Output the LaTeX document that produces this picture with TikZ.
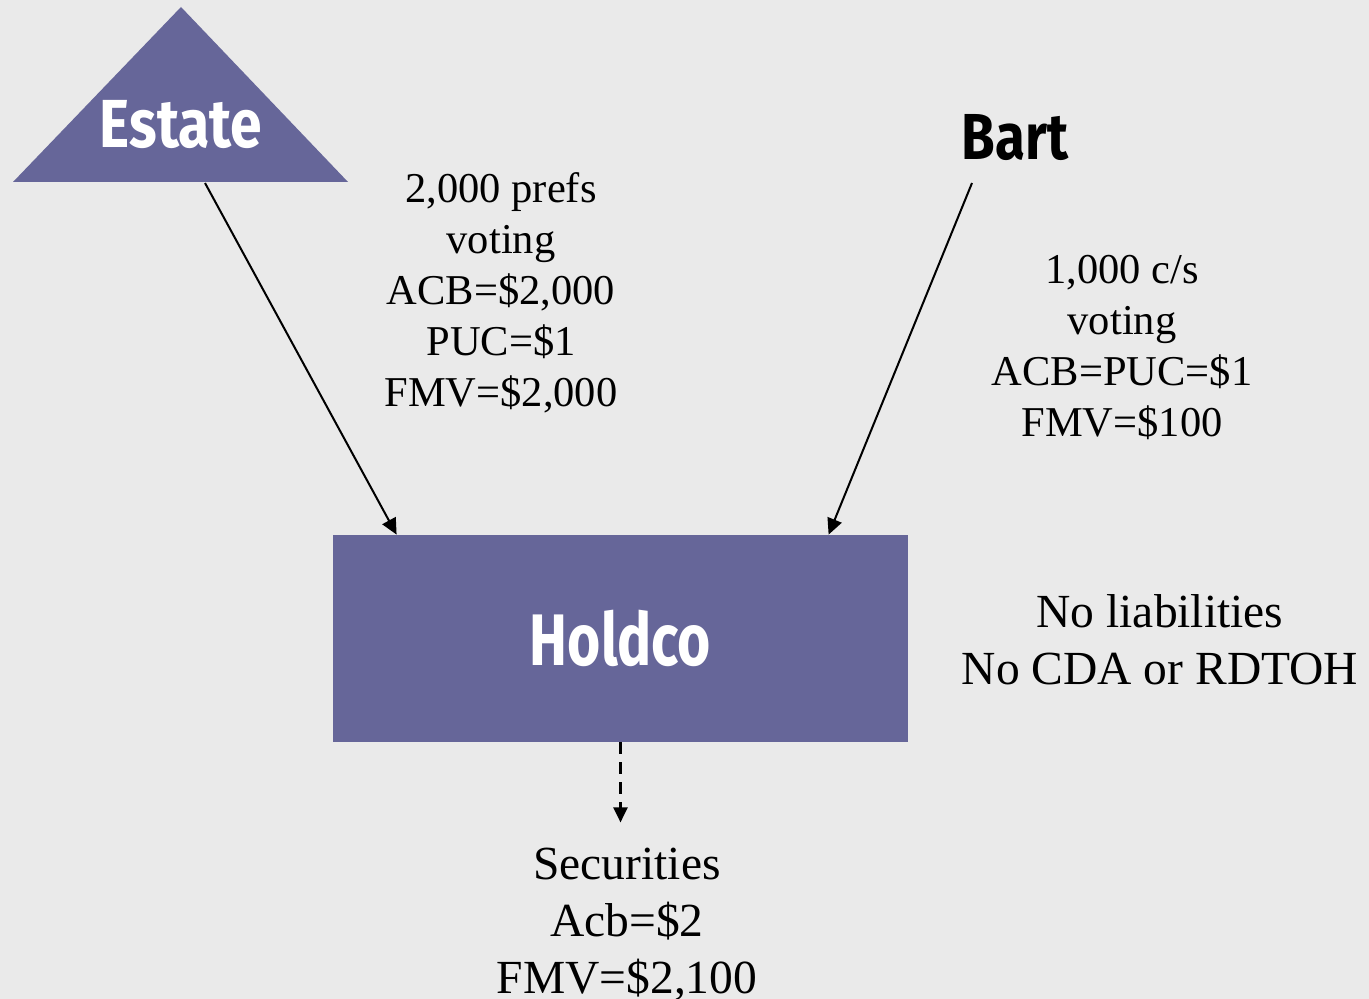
\documentclass[tikz,border=0pt]{standalone}
\usepackage{fontspec}
\setmainfont{Liberation Serif}
\newfontfamily\hdfont[FakeStretch=0.84]{Fira Sans Bold}
\newfontfamily\hdfontn[FakeStretch=0.78]{Fira Sans Bold}
\usetikzlibrary{arrows.meta,calc}
\definecolor{bg}{HTML}{EAEAEA}
\definecolor{boxc}{HTML}{666699}
\tikzset{
  px/.style={x=0.5pt,y=-0.5pt},
  lbl/.style={align=center,inner sep=0pt,font=\fontsize{21.25}{25.5}\selectfont},
  lblb/.style={align=center,inner sep=0pt,font=\fontsize{23.75}{28.5}\selectfont},
  conn/.style={line width=1pt,-{Triangle[length=8pt,width=7.5pt]}},
}
\begin{document}
\begin{tikzpicture}[px]
\useasboundingbox (0,0) rectangle (1369,999);
\fill[bg] (0,0) rectangle (1369,999);
% Estate triangle
\fill[boxc] (181,7) -- (348,182) -- (13,182) -- cycle;
\node[inner sep=0pt,text=white,font=\hdfont\fontsize{34}{40}\selectfont] (estate) at (181,125) {Estate};
\coordinate (estateout) at (205,183);
% Bart
\node[inner sep=0pt,font=\hdfont\fontsize{32.5}{38}\selectfont] (bart) at (1015,138) {Bart};
\coordinate (bartout) at (972,183);
% Holdco
\node[fill=boxc,minimum width=287.5pt,minimum height=103.5pt,inner sep=0pt,text=white,font=\hdfontn\fontsize{36.5}{44}\selectfont] (holdco) at (620.5,638.5) {Holdco};
\coordinate (hin1) at ($(holdco.north west)+(64,0)$);
\coordinate (hin2) at ($(holdco.north west)+(496,0)$);
\draw[conn] (estateout) -- (hin1);
\draw[conn] (bartout) -- (hin2);
% labels
\node[lbl] (l1) at (501,293) {2,000 prefs\\voting\\ACB=\$2,000\\PUC=\$1\\FMV=\$2,000};
\node[lbl] (l2) at (1122,347) {1,000 c/s\\voting\\ACB=PUC=\$1\\FMV=\$100};
\node[lblb] (l3) at (1160,640) {No liabilities\\No CDA or RDTOH};
\node[lblb] (sec) at (627,924) {Securities\\Acb=\$2\\FMV=\$2,100};
\draw[line width=1.1pt,dashed,dash pattern=on 6pt off 4pt,-{Triangle[length=7.5pt,width=7pt]}] (holdco.south) -- ($(holdco.south)+(0,80)$) coordinate (secin);
\end{tikzpicture}
\end{document}
